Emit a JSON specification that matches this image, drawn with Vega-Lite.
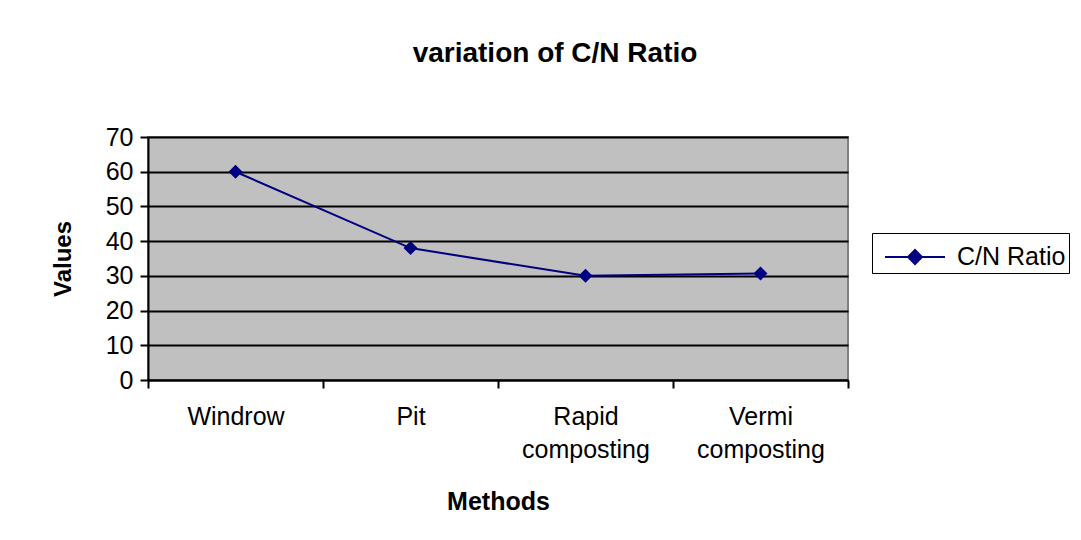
{
  "$schema": "https://vega.github.io/schema/vega-lite/v6.json",
  "autosize": "none",
  "width": 700,
  "height": 243,
  "padding": {"left": 148, "top": 137, "right": 233, "bottom": 160},
  "background": "white",
  "data": {"values": [
    {"method": "Windrow", "value": 60, "series": "C/N Ratio"},
    {"method": "Pit", "value": 38, "series": "C/N Ratio"},
    {"method": "Rapid composting", "value": 30, "series": "C/N Ratio"},
    {"method": "Vermi composting", "value": 30.7, "series": "C/N Ratio"}
  ]},
  "title": {
    "text": "variation of C/N Ratio",
    "font": "Liberation Sans",
    "fontSize": 28,
    "fontWeight": "bold",
    "color": "black",
    "anchor": "middle",
    "dx": 57,
    "offset": 57
  },
  "config": {
    "view": {"fill": "#C0C0C0", "stroke": "#808080", "strokeWidth": 2},
    "axis": {"labelFont": "Liberation Sans", "titleFont": "Liberation Sans", "labelColor": "black", "titleColor": "black"}
  },
  "mark": {"type": "line", "color": "#000080", "strokeWidth": 2,
    "point": {"shape": "diamond", "size": 196, "filled": true, "color": "#000080", "opacity": 1}},
  "encoding": {
    "x": {"field": "method", "type": "nominal", "sort": null,
      "scale": {"paddingInner": 0, "paddingOuter": 0},
      "axis": {"title": "Methods", "titleFontSize": 25, "titleFontWeight": "bold", "titlePadding": 27,
        "labelFontSize": 25, "labelAngle": 0, "labelPadding": 16, "labelLineHeight": 33,
        "labelExpr": "split(datum.label, ' ')",
        "tickBand": "extent", "tickSize": 8, "tickColor": "black", "tickWidth": 2,
        "domainColor": "black", "domainWidth": 2, "grid": false}},
    "y": {"field": "value", "type": "quantitative",
      "scale": {"domain": [0, 70], "nice": false},
      "axis": {"title": "Values", "titleFontSize": 24, "titleFontWeight": "bold", "titlePadding": 30,
        "values": [0, 10, 20, 30, 40, 50, 60, 70],
        "labelFontSize": 25, "labelPadding": 7, "tickSize": 8, "tickColor": "black", "tickWidth": 2,
        "domainColor": "black", "domainWidth": 2,
        "grid": true, "gridColor": "black", "gridWidth": 2}},
    "color": {"field": "series", "type": "nominal",
      "scale": {"range": ["#000080"]},
      "legend": {"title": null, "orient": "none", "legendX": 724, "legendY": 96,
        "strokeColor": "black", "fillColor": "white", "padding": 3,
        "labelFont": "Liberation Sans", "labelFontSize": 25, "labelColor": "black",
        "symbolType": "M-1.5,0H1.5M0,-0.35L0.35,0L0,0.35L-0.35,0Z",
        "symbolSize": 1600, "symbolOffset": 19, "symbolFillColor": "#000080", "symbolStrokeColor": "#000080",
        "symbolStrokeWidth": 2, "labelOffset": 21}}
  }
}
